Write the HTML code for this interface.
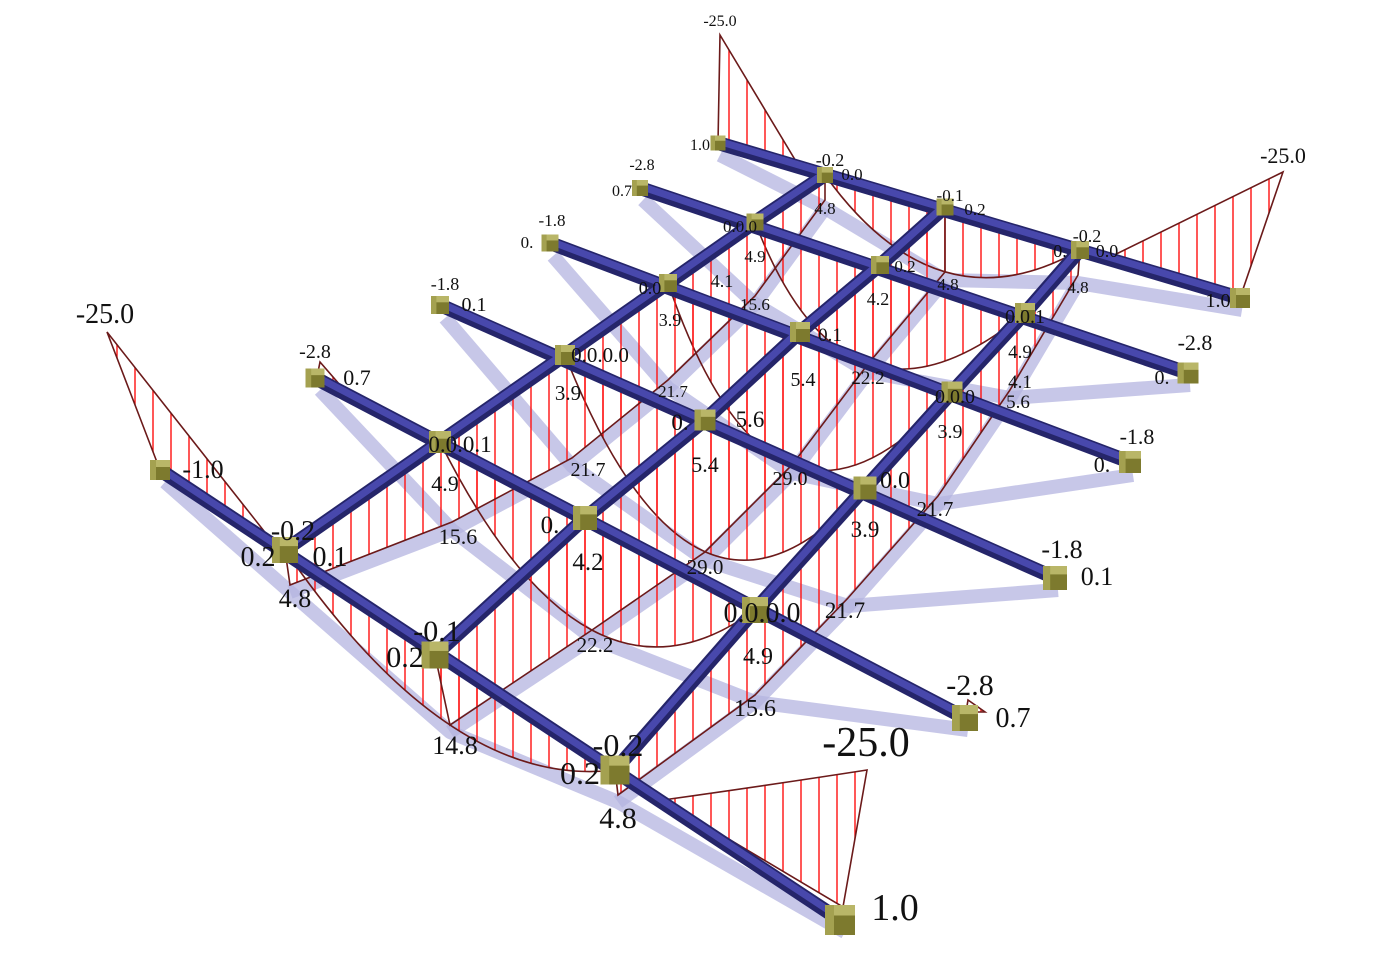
<!DOCTYPE html>
<html><head><meta charset="utf-8"><style>
html,body{margin:0;padding:0;background:#fff;}
svg{display:block;}
text{font-family:"Liberation Serif",serif;fill:#111;text-anchor:middle;}
</style></head><body>
<svg width="1394" height="966" viewBox="0 0 1394 966" xmlns="http://www.w3.org/2000/svg">
<defs>
<pattern id="h" patternUnits="userSpaceOnUse" width="18" height="10">
<line x1="9" y1="0" x2="9" y2="10" stroke="#ff1010" stroke-width="1.4"/>
</pattern>
<g id="nd"><rect x="-10" y="-10" width="20" height="20" fill="#7d7a2e"/><rect x="-10" y="-10" width="20" height="7" fill="#b9b668"/><rect x="-10" y="-10" width="6" height="20" fill="#a4a150"/></g>
</defs>
<rect width="1394" height="966" fill="#fff"/>

<!-- shadows -->
<g fill="none" stroke="#b4b4e0" stroke-opacity="0.75" stroke-width="14" stroke-linejoin="round">
<polyline points="165,482 290,592 450,732 618,802 845,932"/>
<polyline points="320,390 452,530 592,638 755,702 968,730"/>
<polyline points="445,318 572,466 705,560 848,606 1058,590"/>
<polyline points="553,256 668,388 792,473 938,504 1133,475"/>
<polyline points="643,200 755,304 868,372 1010,398 1190,385"/>
<polyline points="720,155 825,208 945,280 1078,283 1242,310"/>
<polyline points="290,592 452,530 572,466 668,388 755,304 825,208"/>
<polyline points="450,732 592,638 705,560 792,473 868,372 945,280"/>
<polyline points="618,802 755,702 848,606 938,504 1010,398 1078,283"/>
</g>

<!-- hatched moment regions -->
<g fill="url(#h)" stroke="#6b1a1a" stroke-width="1.6">
<path d="M285,550 L435,655 L615,770 Q450,790 285,550 Z"/>
<path d="M440,442 L585,518 L755,610 Q586,734 440,442 Z"/>
<path d="M565,355 L705,420 L865,488 Q695,682 565,355 Z"/>
<path d="M668,283 L800,332 L952,392 Q774,592 668,283 Z"/>
<path d="M755,222 L880,265 L1025,313 Q846,460 755,222 Z"/>
<path d="M825,175 L945,207 L1080,250 Q937,331 825,175 Z"/>
<polygon points="285,550 440,442 565,355 668,283 755,222 825,175 825,200 755,296 668,380 572,458 452,522 290,585"/>
<polygon points="435,655 585,518 705,420 800,332 880,265 945,207 945,272 868,364 792,465 705,552 592,630 450,725"/>
<polygon points="615,770 755,610 865,488 952,392 1025,313 1080,250 1078,275 1010,390 938,496 848,598 755,695 618,795"/>
<polygon points="160,470 107,332 275,545"/>
<path d="M663,800 Q770,785 867,770 L843,907 Z"/>
<polygon points="718,143 720,35 800,168"/>
<polygon points="1100,262 1283,172 1240,298"/>
<polygon points="318,372 320,362 340,385"/>
<polygon points="966,712 968,700 985,712"/>
</g>

<!-- beams -->
<g fill="none" stroke-linecap="butt">
<g stroke="#25256a" stroke-width="14">
<line x1="160" y1="470" x2="840" y2="920"/>
<line x1="315" y1="378" x2="965" y2="718"/>
<line x1="440" y1="305" x2="1055" y2="578"/>
<line x1="550" y1="243" x2="1130" y2="462"/>
<line x1="640" y1="188" x2="1188" y2="373"/>
<line x1="718" y1="143" x2="1240" y2="298"/>
<polyline points="285,550 440,442 565,355 668,283 755,222 825,175"/>
<polyline points="435,655 585,518 705,420 800,332 880,265 945,207"/>
<polyline points="615,770 755,610 865,488 952,392 1025,313 1080,250"/>
</g>
<g stroke="#4848ac" stroke-width="7">
<line x1="160" y1="468" x2="840" y2="918"/>
<line x1="315" y1="376" x2="965" y2="716"/>
<line x1="440" y1="303" x2="1055" y2="576"/>
<line x1="550" y1="241" x2="1130" y2="460"/>
<line x1="640" y1="186" x2="1188" y2="371"/>
<line x1="718" y1="141" x2="1240" y2="296"/>
<polyline points="285,548 440,440 565,353 668,281 755,220 825,173"/>
<polyline points="435,653 585,516 705,418 800,330 880,263 945,205"/>
<polyline points="615,768 755,608 865,486 952,390 1025,311 1080,248"/>
</g>
</g>

<!-- nodes -->
<g>
<use href="#nd" transform="translate(160,470) scale(1.0)"/>
<use href="#nd" transform="translate(315,378) scale(0.95)"/>
<use href="#nd" transform="translate(440,305) scale(0.9)"/>
<use href="#nd" transform="translate(550,243) scale(0.85)"/>
<use href="#nd" transform="translate(640,188) scale(0.8)"/>
<use href="#nd" transform="translate(718,143) scale(0.75)"/>
<use href="#nd" transform="translate(840,920) scale(1.5)"/>
<use href="#nd" transform="translate(965,718) scale(1.3)"/>
<use href="#nd" transform="translate(1055,578) scale(1.2)"/>
<use href="#nd" transform="translate(1130,462) scale(1.1)"/>
<use href="#nd" transform="translate(1188,373) scale(1.05)"/>
<use href="#nd" transform="translate(1240,298) scale(1.0)"/>
<use href="#nd" transform="translate(285,550) scale(1.3)"/>
<use href="#nd" transform="translate(440,442) scale(1.1)"/>
<use href="#nd" transform="translate(565,355) scale(1.0)"/>
<use href="#nd" transform="translate(668,283) scale(0.9)"/>
<use href="#nd" transform="translate(755,222) scale(0.85)"/>
<use href="#nd" transform="translate(825,175) scale(0.8)"/>
<use href="#nd" transform="translate(435,655) scale(1.35)"/>
<use href="#nd" transform="translate(585,518) scale(1.2)"/>
<use href="#nd" transform="translate(705,420) scale(1.05)"/>
<use href="#nd" transform="translate(800,332) scale(1.0)"/>
<use href="#nd" transform="translate(880,265) scale(0.9)"/>
<use href="#nd" transform="translate(945,207) scale(0.85)"/>
<use href="#nd" transform="translate(615,770) scale(1.45)"/>
<use href="#nd" transform="translate(755,610) scale(1.3)"/>
<use href="#nd" transform="translate(865,488) scale(1.15)"/>
<use href="#nd" transform="translate(952,392) scale(1.05)"/>
<use href="#nd" transform="translate(1025,313) scale(1.0)"/>
<use href="#nd" transform="translate(1080,250) scale(0.9)"/>
</g>

<!-- labels -->
<g>
<text x="105" y="323" font-size="28">-25.0</text>
<text x="203" y="478" font-size="26">-1.0</text>
<text x="315" y="358" font-size="20">-2.8</text>
<text x="357" y="385" font-size="22">0.7</text>
<text x="445" y="290" font-size="18">-1.8</text>
<text x="474" y="311" font-size="20">0.1</text>
<text x="552" y="226" font-size="17">-1.8</text>
<text x="527" y="248" font-size="17">0.</text>
<text x="642" y="170" font-size="16">-2.8</text>
<text x="622" y="196" font-size="16">0.7</text>
<text x="720" y="26" font-size="16">-25.0</text>
<text x="700" y="150" font-size="16">1.0</text>
<text x="293" y="540" font-size="28">-0.2</text>
<text x="258" y="566" font-size="28">0.2</text>
<text x="330" y="566" font-size="28">0.1</text>
<text x="295" y="607" font-size="26">4.8</text>
<text x="437" y="641" font-size="30">-0.1</text>
<text x="405" y="667" font-size="30">0.2</text>
<text x="455" y="754" font-size="26">14.8</text>
<text x="618" y="756" font-size="32">-0.2</text>
<text x="580" y="784" font-size="32">0.2</text>
<text x="618" y="828" font-size="30">4.8</text>
<text x="866" y="756" font-size="42">-25.0</text>
<text x="895" y="920" font-size="38">1.0</text>
<text x="970" y="695" font-size="30">-2.8</text>
<text x="1013" y="727" font-size="28">0.7</text>
<text x="1062" y="558" font-size="26">-1.8</text>
<text x="1097" y="585" font-size="26">0.1</text>
<text x="1137" y="444" font-size="22">-1.8</text>
<text x="1102" y="472" font-size="22">0.</text>
<text x="1195" y="350" font-size="22">-2.8</text>
<text x="1162" y="384" font-size="20">0.</text>
<text x="1283" y="163" font-size="22">-25.0</text>
<text x="1218" y="307" font-size="20">1.0</text>
<text x="830" y="166" font-size="18">-0.2</text>
<text x="852" y="180" font-size="17">0.0</text>
<text x="825" y="214" font-size="17">4.8</text>
<text x="950" y="201" font-size="17">-0.1</text>
<text x="975" y="215" font-size="17">0.2</text>
<text x="1087" y="242" font-size="18">-0.2</text>
<text x="1107" y="257" font-size="18">0.0</text>
<text x="1060" y="257" font-size="18">0.</text>
<text x="1078" y="293" font-size="17">4.8</text>
<text x="740" y="232" font-size="17">0.0.0</text>
<text x="755" y="262" font-size="17">4.9</text>
<text x="722" y="287" font-size="18">4.1</text>
<text x="755" y="310" font-size="17">15.6</text>
<text x="650" y="294" font-size="18">0.0</text>
<text x="670" y="326" font-size="18">3.9</text>
<text x="673" y="397" font-size="17">21.7</text>
<text x="905" y="272" font-size="17">0.2</text>
<text x="878" y="305" font-size="18">4.2</text>
<text x="948" y="290" font-size="17">4.8</text>
<text x="830" y="341" font-size="19">0.1</text>
<text x="803" y="386" font-size="20">5.4</text>
<text x="868" y="384" font-size="19">22.2</text>
<text x="1025" y="323" font-size="20">0.0.1</text>
<text x="1020" y="358" font-size="19">4.9</text>
<text x="1020" y="388" font-size="19">4.1</text>
<text x="1018" y="408" font-size="19">5.6</text>
<text x="955" y="403" font-size="20">0.0.0</text>
<text x="950" y="438" font-size="20">3.9</text>
<text x="600" y="362" font-size="21">0.0.0.0</text>
<text x="568" y="400" font-size="21">3.9</text>
<text x="588" y="476" font-size="20">21.7</text>
<text x="460" y="452" font-size="23">0.0.0.1</text>
<text x="445" y="491" font-size="22">4.9</text>
<text x="458" y="544" font-size="22">15.6</text>
<text x="680" y="430" font-size="23">0.</text>
<text x="750" y="427" font-size="23">5.6</text>
<text x="705" y="472" font-size="22">5.4</text>
<text x="790" y="485" font-size="20">29.0</text>
<text x="550" y="533" font-size="25">0.</text>
<text x="588" y="570" font-size="25">4.2</text>
<text x="705" y="574" font-size="21">29.0</text>
<text x="595" y="652" font-size="21">22.2</text>
<text x="895" y="488" font-size="24">0.0</text>
<text x="865" y="537" font-size="23">3.9</text>
<text x="935" y="516" font-size="21">21.7</text>
<text x="762" y="622" font-size="28">0.0.0.0</text>
<text x="845" y="618" font-size="23">21.7</text>
<text x="758" y="664" font-size="24">4.9</text>
<text x="755" y="716" font-size="24">15.6</text>
</g>
</svg>
</body></html>
